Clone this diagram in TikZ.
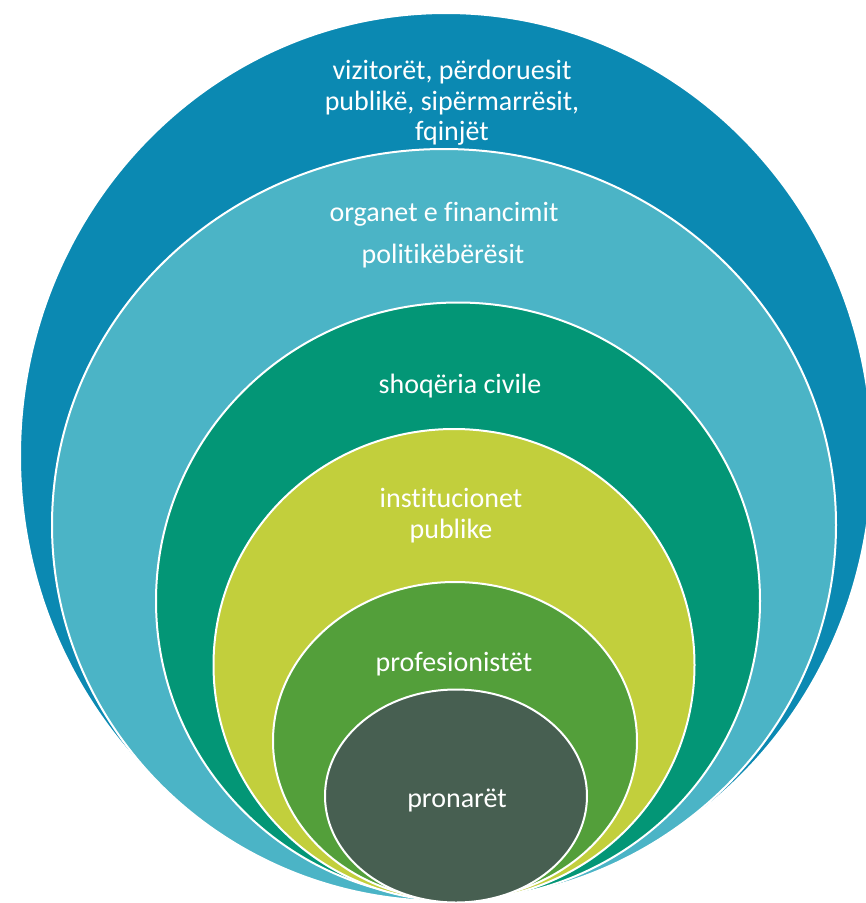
\documentclass[tikz,border=0pt]{standalone}
\usepackage{fontspec}
\setmainfont{Carlito}[Ligatures=NoCommon]
\usetikzlibrary{shapes.geometric}
\definecolor{cOuter}{RGB}{11,137,178}
\definecolor{cLight}{RGB}{75,180,198}
\definecolor{cTeal}{RGB}{3,150,118}
\definecolor{cYellow}{RGB}{194,207,60}
\definecolor{cGreen}{RGB}{83,159,58}
\definecolor{cDark}{RGB}{71,95,81}
\tikzset{
  ring/.style={ellipse, draw=white, line width=2pt, inner sep=0pt, outer sep=0pt},
  lbl/.style={text=white, anchor=base, align=center, inner sep=0pt, font=\fontsize{28}{30}\selectfont}
}
\begin{document}
\begin{tikzpicture}[x=1pt,y=-1pt]
\useasboundingbox (0,0) rectangle (866,903);
\clip (0,0) rectangle (866,903);
\fill[white] (0,0) rectangle (866,903);
\node[ring, fill=cOuter, minimum width=852pt, minimum height=886pt] (e1) at (446,456) {};
\node[ring, fill=cLight, minimum width=784pt, minimum height=752pt] (e2) at (444,525) {};
\node[ring, fill=cTeal, minimum width=604pt, minimum height=597pt] (e3) at (458,601) {};
\node[ring, fill=cYellow, minimum width=481pt, minimum height=472pt] (e4) at (454,665) {};
\node[ring, fill=cGreen, minimum width=364pt, minimum height=318pt] (e5) at (455,741) {};
\node[ring, fill=cDark, minimum width=262pt, minimum height=213pt] (e6) at (456,796) {};
\node[lbl] (t1a) at (452,79) {vizitorët, përdoruesit};
\node[lbl] (t1b) at (452,110) {publikë, sipërmarrësit,};
\node[lbl] (t1c) at (452,140) {fqinjët};
\node[lbl] (t2a) at (444,221) {organet e financimit};
\node[lbl] (t2b) at (443,263) {politikëbërësit};
\node[lbl] (t3) at (460,393) {shoqëria civile};
\node[lbl] (t4a) at (451,507) {institucionet};
\node[lbl] (t4b) at (451,538) {publike};
\node[lbl] (t5) at (454,671) {profesionistët};
\node[lbl] (t6) at (457,807) {pronarët};
\end{tikzpicture}
\end{document}
